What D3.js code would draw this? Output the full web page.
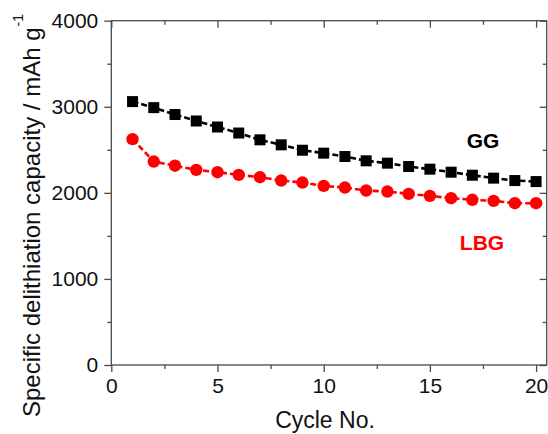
<!DOCTYPE html>
<html>
<head>
<meta charset="utf-8">
<script src="https://cdn.jsdelivr.net/npm/d3@7"></script>
<style>
  html, body { margin: 0; padding: 0; background: #fff; }
  svg { display: block; font-family: Arial, "Liberation Sans", sans-serif; }
</style>
</head>
<body>
<svg id="chart" width="548" height="434"></svg>
<script>
// Cycle numbers and delithiation capacities (mAh g^-1)
const cycles = [1, 2, 3, 4, 5, 6, 7, 8, 9, 10, 11, 12, 13, 14, 15, 16, 17, 18, 19, 20];
const ggCapacity = [3060, 2990, 2910, 2835, 2765, 2695, 2616, 2558, 2495, 2461,
                    2422, 2372, 2345, 2306, 2275, 2240, 2205, 2171, 2143, 2131];
const lbgCapacity = [2624, 2364, 2315, 2267, 2240, 2209, 2182, 2143, 2120, 2081,
                     2062, 2027, 2015, 1988, 1965, 1938, 1919, 1907, 1880, 1880];
const xMajorTicks = [0, 5, 10, 15, 20];
const xMinorTicks = [2.5, 7.5, 12.5, 17.5];
const yMajorTicks = [0, 1000, 2000, 3000, 4000];
const yMinorTicks = [500, 1500, 2500, 3500];

const svg = d3.select("#chart");
const plotLeft = 111.3, plotRight = 546.7, plotTop = 20.7, plotBottom = 365;

const x = d3.scaleLinear().domain([0, 20.5]).range([plotLeft, plotRight]);
const y = d3.scaleLinear().domain([0, 4000]).range([plotBottom, plotTop]);

const axisColor = "#4a4a4a";
const tickFont = 21;

function styleAxis(g, showText) {
  g.select(".domain").remove();
  g.selectAll(".tick line").attr("stroke", axisColor).attr("stroke-width", 1.3);
  if (showText) {
    g.selectAll(".tick text").attr("fill", "#111").style("font-size", tickFont + "px");
  } else {
    g.selectAll(".tick text").remove();
  }
}

// Bottom axis: outward ticks with labels
svg.append("g").attr("transform", `translate(0,${plotBottom})`)
  .call(d3.axisBottom(x).tickValues(xMajorTicks).tickSize(7).tickPadding(6).tickFormat(d3.format("d")))
  .call(g => styleAxis(g, true));
svg.append("g").attr("transform", `translate(0,${plotBottom})`)
  .call(d3.axisBottom(x).tickValues(xMinorTicks).tickSize(4))
  .call(g => styleAxis(g, false));

// Top axis: inward ticks
svg.append("g").attr("transform", `translate(0,${plotTop})`)
  .call(d3.axisBottom(x).tickValues(xMajorTicks).tickSize(7))
  .call(g => styleAxis(g, false));
svg.append("g").attr("transform", `translate(0,${plotTop})`)
  .call(d3.axisBottom(x).tickValues(xMinorTicks).tickSize(4))
  .call(g => styleAxis(g, false));

// Left axis: outward ticks with labels
svg.append("g").attr("transform", `translate(${plotLeft},0)`)
  .call(d3.axisLeft(y).tickValues(yMajorTicks).tickSize(7).tickPadding(6).tickFormat(d3.format("d")))
  .call(g => styleAxis(g, true));
svg.append("g").attr("transform", `translate(${plotLeft},0)`)
  .call(d3.axisLeft(y).tickValues(yMinorTicks).tickSize(4))
  .call(g => styleAxis(g, false));

// Right axis: inward ticks
svg.append("g").attr("transform", `translate(${plotRight},0)`)
  .call(d3.axisLeft(y).tickValues(yMajorTicks).tickSize(7))
  .call(g => styleAxis(g, false));
svg.append("g").attr("transform", `translate(${plotRight},0)`)
  .call(d3.axisLeft(y).tickValues(yMinorTicks).tickSize(4))
  .call(g => styleAxis(g, false));

// Plot frame
svg.append("rect")
  .attr("x", plotLeft).attr("y", plotTop)
  .attr("width", plotRight - plotLeft).attr("height", plotBottom - plotTop)
  .attr("fill", "none").attr("stroke", axisColor).attr("stroke-width", 1.3);

// Series
const series = [
  { name: "GG", values: ggCapacity, color: "#000", marker: "square" },
  { name: "LBG", values: lbgCapacity, color: "#f00", marker: "circle" }
];

const line = d3.line().x(d => x(d[0])).y(d => y(d[1]));

series.forEach(s => {
  const pts = cycles.map((c, i) => [c, s.values[i]]);
  svg.append("path")
    .datum(pts)
    .attr("d", line)
    .attr("fill", "none")
    .attr("stroke", s.color)
    .attr("stroke-width", 2.6)
    .attr("stroke-dasharray", "6,3");

  if (s.marker === "square") {
    svg.append("g").selectAll("rect").data(pts).join("rect")
      .attr("x", d => x(d[0]) - 5.5).attr("y", d => y(d[1]) - 5.5)
      .attr("width", 11).attr("height", 11)
      .attr("fill", s.color);
  } else {
    svg.append("g").selectAll("circle").data(pts).join("circle")
      .attr("cx", d => x(d[0])).attr("cy", d => y(d[1]))
      .attr("r", 6.2)
      .attr("fill", s.color);
  }
});

// Series labels
svg.append("text").attr("x", 483).attr("y", 148)
  .attr("text-anchor", "middle").attr("font-weight", "bold")
  .style("font-size", "21px").attr("fill", "#000").text("GG");
svg.append("text").attr("x", 482).attr("y", 250)
  .attr("text-anchor", "middle").attr("font-weight", "bold")
  .style("font-size", "21px").attr("fill", "#f00").text("LBG");

// Axis titles
svg.append("text").attr("x", 325).attr("y", 428)
  .attr("text-anchor", "middle").style("font-size", "23px").attr("fill", "#111")
  .text("Cycle No.");

const yTitle = svg.append("text")
  .attr("transform", "translate(40,417) rotate(-90)")
  .attr("text-anchor", "start").style("font-size", "24px").attr("fill", "#111");
yTitle.append("tspan").text("Specific delithiation capacity / mAh g");
yTitle.append("tspan").attr("dx", 1).attr("dy", -17).style("font-size", "14px").text("-1");
</script>
</body>
</html>
